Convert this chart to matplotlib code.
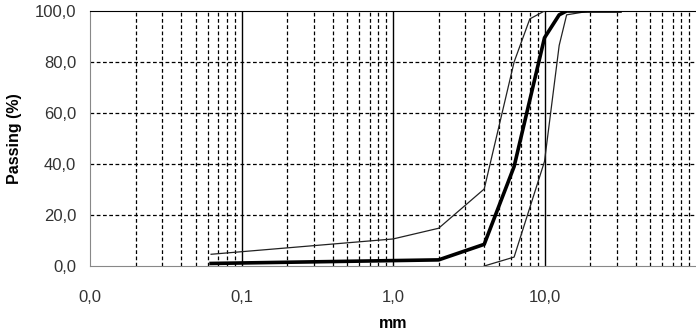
import matplotlib
matplotlib.use("Agg")
import matplotlib.pyplot as plt
from matplotlib.ticker import FixedLocator, NullFormatter

plt.rcParams['font.family'] = ['Liberation Sans', 'DejaVu Sans']

# sieve sizes (mm) and passing (%)
x_mid = [0.063, 2, 4, 6.3, 10, 12.5, 14, 20, 31.5]
y_mid = [1.0, 2.4, 8.5, 39.0, 89.5, 98.5, 100, 100, 100]

x_upper = [0.063, 1, 2, 4, 6.3, 8, 10]
y_upper = [4.6, 10.6, 14.8, 30.2, 80.0, 96.9, 100]

x_lower = [4, 6.3, 10, 12.5, 14, 20, 31.5]
y_lower = [0, 3.5, 41.0, 86.5, 98.5, 100, 100]

y_ticks = [0, 20, 40, 60, 80, 100]
x_ticks = [0.01, 0.1, 1, 10]
x_tick_labels = ["0,0", "0,1", "1,0", "10,0"]

fig = plt.figure(figsize=(6.96, 3.36), dpi=100)
ax = fig.add_axes([90 / 696, 70 / 336, 606 / 696, 255 / 336])

ax.set_xscale("log")
ax.set_xlim(0.01, 100)
ax.set_ylim(0, 100)

# grid: dashed minors, solid majors on x
minors = [m * 10.0 ** e for e in range(-2, 2) for m in range(2, 10)]
for v in minors:
    ax.axvline(v, color="black", lw=0.9, ls=(0, (3, 2)), zorder=1)
for v in [0.1, 1, 10]:
    ax.axvline(v, color="black", lw=1.0, zorder=1)
for v in [20, 40, 60, 80]:
    ax.axhline(v, color="black", lw=0.9, ls=(0, (3, 2)), zorder=1)

ax.plot(x_upper, y_upper, color="#222222", lw=0.9, zorder=3)
ax.plot(x_lower, y_lower, color="#222222", lw=0.9, zorder=3)
ax.plot(x_mid, y_mid, color="black", lw=2.6, zorder=4)

ax.xaxis.set_major_locator(FixedLocator(x_ticks))
ax.xaxis.set_minor_locator(FixedLocator(minors))
ax.xaxis.set_minor_formatter(NullFormatter())
ax.set_xticklabels(x_tick_labels)
ax.set_yticks(y_ticks)
ax.set_yticklabels(["%d,0" % v for v in y_ticks])
ax.tick_params(which="both", length=0, labelsize=12, colors="#333333")
ax.tick_params(axis="x", pad=17)
ax.tick_params(axis="y", pad=10)

ax.spines["left"].set_color("#888888")
ax.spines["bottom"].set_color("#888888")
ax.spines["top"].set_color("black")
ax.spines["right"].set_visible(False)

ax.set_ylabel("Passing (%)", fontsize=11.5, fontweight="bold")
ax.set_xlabel("mm", fontsize=11.5, fontweight="bold")
ax.yaxis.set_label_coords(-0.112, 0.5)
ax.xaxis.set_label_coords(0.5, -0.196)

fig.savefig("out.png", dpi=100)
